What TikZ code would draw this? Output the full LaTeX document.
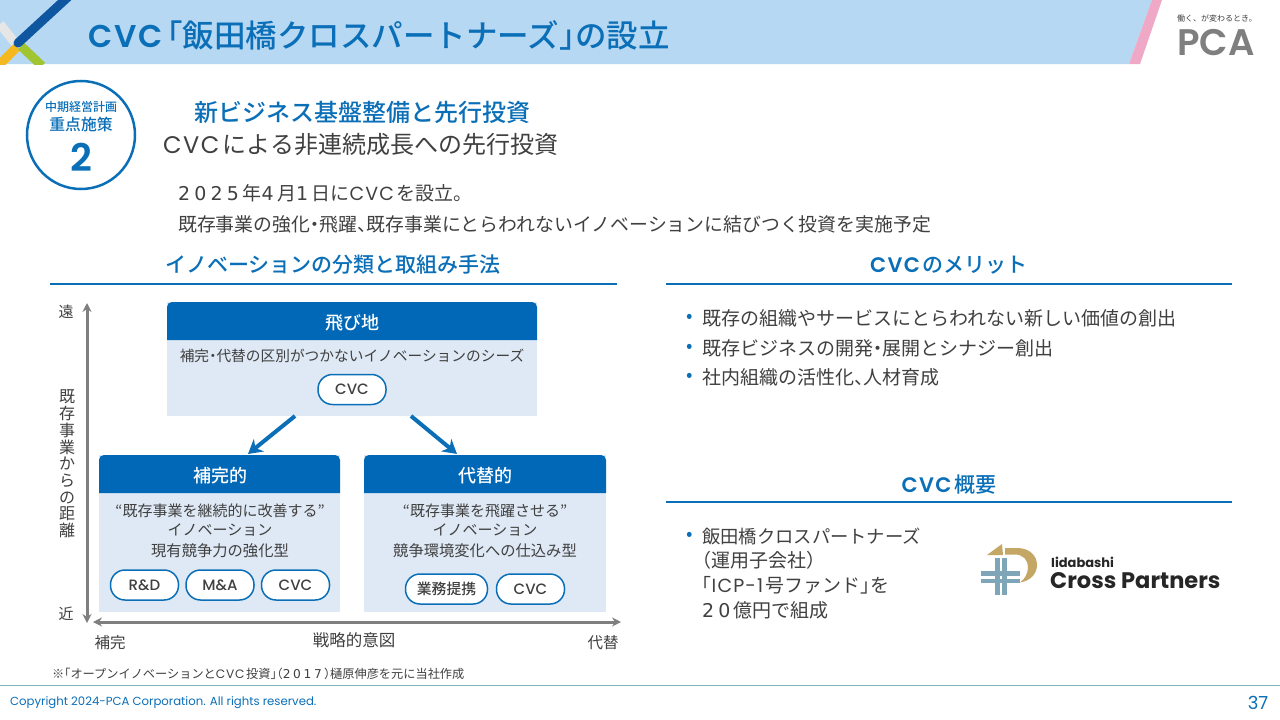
\documentclass[tikz,border=0pt]{standalone}
\usepackage{fontspec}
\setmainfont{Noto Sans CJK JP}[BoldFont = {Noto Sans CJK JP Medium}]
\newfontfamily\tightfont[RawFeature=+halt, BoldFont = {Noto Sans CJK JP Medium}]{Noto Sans CJK JP}
\newfontfamily\latfont[LetterSpace=6, BoldFont = {Poppins SemiBold}]{Poppins}
\newfontfamily\digitfont[LetterSpace=22]{DejaVu Sans}
\newfontfamily\logofont{Poppins}
\newfontfamily\pillfont{Poppins Medium}
\newfontfamily\markfont{Poppins SemiBold}
\usepackage{tikz}
\usetikzlibrary{arrows.meta,calc}
\definecolor{bandblue}{HTML}{B6D8F2}
\definecolor{titleblue}{HTML}{0B6FB8}
\definecolor{headblue}{HTML}{0068B7}
\definecolor{bodyblue}{HTML}{DEE9F5}
\definecolor{darktext}{HTML}{404040}
\definecolor{axisgray}{HTML}{7F7F7F}
\definecolor{footline}{HTML}{7FB5C0}
\definecolor{logoblue}{HTML}{7FA6B8}
\definecolor{logogold}{HTML}{C4A665}
\definecolor{stripepink}{HTML}{EFA9C6}
\definecolor{decoblue}{HTML}{0F56A0}
\definecolor{decogray}{HTML}{E6E6E6}
\definecolor{decoyellow}{HTML}{F5B81E}
\definecolor{decogreen}{HTML}{A0C530}
\newcommand{\fs}[1]{\fontsize{#1}{#1}\selectfont}
\newcommand{\pn}[1]{{\tightfont #1}}
\newcommand{\la}[1]{{\latfont #1\kern 0.14em}}
\newcommand{\dg}[1]{{\digitfont #1\kern 0.18em}}

\begin{document}
\begin{tikzpicture}
      [x = 1pt, y = -1pt,
      plain/.style= {
         inner sep = 0pt,
         text = darktext,
         font = \fs{#1}
      },
      heading/.style= {
         inner sep = 0pt,
         text = titleblue,
         font = \bfseries\fs{#1}
      },
      boxtitle/.style= {
         inner sep = 0pt,
         text = white,
         font = \bfseries\fs{18}
      },
      pill/.style= {
         draw = titleblue,
         fill = white,
         line width = 1.5pt,
         rounded corners = 14.5pt,
         inner sep = 0pt,
         minimum height = 30pt,
         minimum width = 68pt,
         text = darktext,
         font = \pillfont\fs{15}
      },
      axis/.style= {
         {Stealth[length = 9pt, width = 9pt]}-{Stealth[length = 9pt, width = 9pt]},
         draw = axisgray,
         line width = 3pt
      },
      flow/.style= {
         -{Stealth[length = 14pt, width = 16pt]},
         draw = titleblue,
         line width = 4pt
      },
      rule/.style= {
         draw = titleblue,
         line width = 1.2pt
      }]

      \useasboundingbox (0, 0) rectangle (1280, 720);

      \fill[white] (0, 0) rectangle (1280, 720);
      \fill[bandblue] (0, 0) -- (1152, 0) -- (1129, 64) -- (0, 64) -- cycle;
      \fill[stripepink] (1152, 0) -- (1162, 0) -- (1140, 64) -- (1129, 64) -- cycle;

      \begin{scope}
         \clip (0, 0) rectangle (1280, 64);
         \draw[line width = 9pt, draw = decogray] (0, 24) -- (15, 43);
         \draw[line width = 9pt, draw = decoyellow] (17, 47) -- (-2, 66);
         \draw[line width = 9pt, draw = decogreen] (21, 46) -- (42, 66);
         \draw[line width = 9pt, draw = decoblue, line cap = round] (18, 43) -- (68, -3);
      \end{scope}

      \node[heading = 31.5, anchor = west] (title) at (88, 35) {\la{CVC}\pn{「}飯田橋クロスパートナーズ\pn{」}の設立};

      \node[plain = 8, anchor = center] (slogan) at (1217, 18) {働く、が変わるとき。};
      \node[inner sep = 0pt, text = axisgray, font = \markfont\fs{37}] (pca) at (1216, 43) {PCA};

      \node[circle, draw = titleblue, line width = 2.5pt, minimum size = 108pt, inner sep = 0pt] (badge) at (81, 135) {};
      \node[heading = 12] (badgeA) at (81, 107) {中期経営計画};
      \node[heading = 15.8] (badgeB) at (81, 124) {重点施策};
      \node[inner sep = 0pt, text = titleblue, font = \markfont\fs{38}] (badgeC) at (81, 157) {2};

      \node[heading = 24] (leadA) at (362, 112) {新ビジネス基盤整備と先行投資};
      \node[plain = 24, anchor = west] (leadB) at (163, 144) {\la{CVC}による非連続成長への先行投資};
      \node[plain = 19, anchor = west] (noteA) at (178, 193) {\dg{2025}年\dg{4}月\dg{1}日に\la{CVC}を設立\pn{。}};
      \node[plain = 18.85, anchor = west] (noteB) at (178, 224) {既存事業の強化\pn{・}飛躍\pn{、}既存事業にとらわれないイノベーションに結びつく投資を実施予定};

      \node[heading = 21] (headLeft) at (333, 265) {イノベーションの分類と取組み手法};
      \node[heading = 21] (headMerit) at (949, 265) {\la{CVC}のメリット};
      \node[heading = 21] (headOutline) at (949, 485) {\la{CVC}概要};
      \draw[rule] (50, 284) -- (617, 284);
      \draw[rule] (666, 284) -- (1232, 284);
      \draw[rule] (666, 502) -- (1232, 502);

      \coordinate (axisTop) at (87, 303);
      \coordinate (axisBottom) at (87, 623);
      \coordinate (axisLeft) at (93, 622);
      \coordinate (axisRight) at (621, 622);
      \draw[axis] (axisTop) -- (axisBottom);
      \draw[axis] (axisLeft) -- (axisRight);
      \node[plain = 15] (far) at (66, 312) {遠};
      \node[plain = 15] (near) at (66, 614) {近};
      \node[plain = 16, align = center, font = \fontsize{16}{16.7}\selectfont] (distance) at (67, 464)
         {既\\存\\事\\業\\か\\ら\\の\\距\\離};
      \node[plain = 15.5] (lowSide) at (110, 643) {補完};
      \node[plain = 16.5] (intent) at (354, 640) {戦略的意図};
      \node[plain = 15.5] (highSide) at (603, 643) {代替};

      \fill[bodyblue] (167, 302) rectangle (537, 416);
      \fill[headblue] (167, 340) [rounded corners = 5pt] -- (167, 302) -- (537, 302) [sharp corners] -- (537, 340) -- cycle;
      \node[boxtitle] (jumpTitle) at (352, 323) {飛び地};
      \node[plain = 14.7] (jumpText) at (352, 356) {補完\pn{・}代替の区別がつかないイノベーションのシーズ};
      \node[pill] (jumpCvc) at (352, 389.5) {CVC};

      \fill[bodyblue] (99, 455) rectangle (340, 612);
      \fill[headblue] (99, 493) [rounded corners = 5pt] -- (99, 455) -- (340, 455) [sharp corners] -- (340, 493) -- cycle;
      \node[boxtitle] (compTitle) at (220, 476) {補完的};
      \node[plain = 15] (compA) at (220, 511) {\pn{“}既存事業を継続的に改善する\pn{”}};
      \node[plain = 15] (compB) at (220, 530) {イノベーション};
      \node[plain = 15.3] (compC) at (220, 551) {現有競争力の強化型};
      \node[pill] (compRd) at (144.5, 585) {R\&D};
      \node[pill] (compMa) at (220, 585) {M\&A};
      \node[pill] (compCvc) at (295.5, 585) {CVC};

      \fill[bodyblue] (364, 455) rectangle (606, 612);
      \fill[headblue] (364, 493) [rounded corners = 5pt] -- (364, 455) -- (606, 455) [sharp corners] -- (606, 493) -- cycle;
      \node[boxtitle] (subsTitle) at (485, 476) {代替的};
      \node[plain = 15] (subsA) at (485, 511) {\pn{“}既存事業を飛躍させる\pn{”}};
      \node[plain = 15] (subsB) at (485, 530) {イノベーション};
      \node[plain = 15.3] (subsC) at (485, 551) {競争環境変化への仕込み型};
      \node[pill, minimum width = 82pt, font = \bfseries\fs{14.8}] (subsAlliance) at (446.5, 589) {業務提携};
      \node[pill] (subsCvc) at (530.5, 589) {CVC};

      \coordinate (jumpLeft) at (295, 416);
      \coordinate (jumpRight) at (411, 416);
      \coordinate (compTop) at (248, 454);
      \coordinate (subsTop) at (457, 454);
      \draw[flow] (jumpLeft) -- (compTop);
      \draw[flow] (jumpRight) -- (subsTop);

      \foreach \name/\y/\txt in {meritA/318/既存の組織やサービスにとらわれない新しい価値の創出,
                                 meritB/348/既存ビジネスの開発\pn{・}展開とシナジー創出,
                                 meritC/377/社内組織の活性化\pn{、}人材育成} {
         \node[plain = 19, text = titleblue] (\name dot) at (690, \y) {•};
         \node[plain = 19, anchor = west] (\name) at (702, \y) {\txt};
      }

      \node[plain = 19, text = titleblue] (outlineDot) at (690, 536) {•};
      \node[plain = 18.3, anchor = west] (outlineA) at (702, 536) {飯田橋クロスパートナーズ};
      \node[plain = 19, anchor = west] (outlineB) at (702, 560) {\pn{（}運用子会社\pn{）}};
      \node[plain = 19, anchor = west] (outlineC) at (702, 585) {\pn{「}\la{ICP-1}号ファンド\pn{」}を};
      \node[plain = 19, anchor = west] (outlineD) at (702, 610) {\dg{20}億円で組成};

      \fill[logoblue] (981, 571) rectangle (1020, 575.5);
      \fill[logoblue] (981, 578.5) rectangle (1020, 583);
      \fill[logoblue] (995, 558) rectangle (999.5, 595);
      \fill[logoblue] (1002, 558) rectangle (1006.5, 595);
      \fill[logogold] (987, 555) -- (1002, 544) -- (1003, 555) -- cycle;
      \fill[logogold] (1005, 548) -- (1017, 548) .. controls (1030, 548) and (1037, 556) .. (1037, 565)
         .. controls (1037, 574) and (1030, 581) .. (1020, 582.5)
         .. controls (1025, 579) and (1028, 573) .. (1028, 567)
         .. controls (1028, 560) and (1023, 554.5) .. (1015, 554.5) -- (1005, 554.5) -- cycle;

      \node[inner sep = 0pt, anchor = west, font = \logofont\bfseries\fs{13}, text = black!85] (logoA) at (1051, 562) {Iidabashi};
      \node[inner sep = 0pt, anchor = west, font = \logofont\bfseries\fs{22.5}, text = black!85] (logoB) at (1050, 581) {Cross Partners};

      \node[plain = 12.2, anchor = west] (source) at (52, 674) {※\pn{「}オープンイノベーションと\la{CVC}投資\pn{」（}\dg{2017}\pn{）}樋原伸彦を元に当社作成};

      \draw[draw = footline, line width = 1pt] (0, 685) -- (1280, 685);
      \node[inner sep = 0pt, anchor = west, text = titleblue, font = \logofont\fs{11.7}] (copyright) at (10, 703) {Copyright 2024-PCA Corporation. All rights reserved.};
      \node[inner sep = 0pt, text = titleblue, font = \logofont\fs{18}] (pageNo) at (1258, 703) {37};

   \end{tikzpicture}
\end{document}
